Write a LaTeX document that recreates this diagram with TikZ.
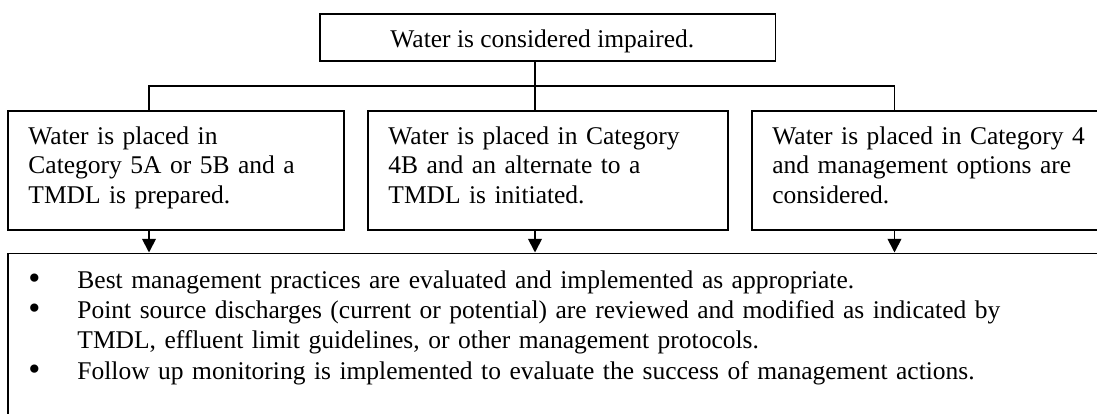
\documentclass[tikz,border=0pt]{standalone}
\usepackage{fontspec}
\usepackage{graphicx}
\setmainfont{Liberation Serif}
\usetikzlibrary{arrows.meta}
% one drawing unit of the layout grid
\newcommand\pxu{0.4706pt}
% list bullet, hung to the left of the item text
\newcommand\itemdot{\leavevmode\llap{\raisebox{-0.5pt}{\scalebox{1.35}{\textbullet}}\hspace{17.4pt}}}
\begin{document}
\begin{tikzpicture}[x=0.4706pt,y=-0.4706pt,
  frame/.style={draw, line width=0.9pt, inner sep=0pt, anchor=north west},
  txt/.style={anchor=base west, inner sep=0pt, align=left,
    font=\fontsize{12pt}{13.9pt}\selectfont},
  listtxt/.style={anchor=base west, inner sep=0pt, align=left,
    font=\fontsize{12pt}{14.3pt}\selectfont},
  link/.style={line width=0.85pt},
  flow/.style={line width=0.85pt, -{Triangle[width=6.4pt,length=6.4pt]}}]
\useasboundingbox (0,0) rectangle (1097,414);
\clip (0,0) rectangle (1097,414);

% boxes
\node[frame, minimum width=455.5*\pxu, minimum height=47*\pxu] (top) at (319,13) {};
\node[frame, minimum width=336*\pxu, minimum height=119*\pxu] (left) at (7,110) {};
\node[frame, minimum width=360*\pxu, minimum height=119*\pxu] (mid) at (367,110) {};
\node[frame, minimum width=420*\pxu, minimum height=119*\pxu] (right) at (751,110) {};
\node[frame, minimum width=1200*\pxu, minimum height=300*\pxu] (actions) at (7,252.5) {};

% texts
\node[txt] (toptext) at (390,47) {Water is considered impaired.};
\node[txt, text width=330*\pxu] (lefttext) at (28,144)
  {Water is placed in\\Category 5A or 5B and a\\TMDL is prepared.};
\node[txt, text width=330*\pxu] (midtext) at (388,144)
  {Water is placed in Category\\4B and an alternate to a\\TMDL is initiated.};
\node[txt, text width=330*\pxu] (righttext) at (772,144)
  {Water is placed in Category 4\\and management options are\\considered.};
\node[listtxt, text width=1000*\pxu] (listtext) at (77,288)
  {\itemdot Best management practices are evaluated and implemented as appropriate.\\
   \itemdot Point source discharges (current or potential) are reviewed and modified as indicated by\\
   TMDL, effluent limit guidelines, or other management protocols.\\
   \itemdot Follow up monitoring is implemented to evaluate the success of management actions.};

% branching connector
\coordinate (jl) at (149,86);
\coordinate (jm) at (535,86);
\coordinate (jr) at (894.5,86);
\draw[link] (top.south -| jm) -- (jm) -- (mid.north -| jm);
\draw[link] (left.north -| jl) -- (jl) -- (jr) -- (right.north -| jr);

% arrows into the action box
\draw[flow] (left.south -| jl) -- (actions.north -| jl);
\draw[flow] (mid.south -| jm) -- (actions.north -| jm);
\draw[flow] (right.south -| jr) -- (actions.north -| jr);
\end{tikzpicture}
\end{document}
